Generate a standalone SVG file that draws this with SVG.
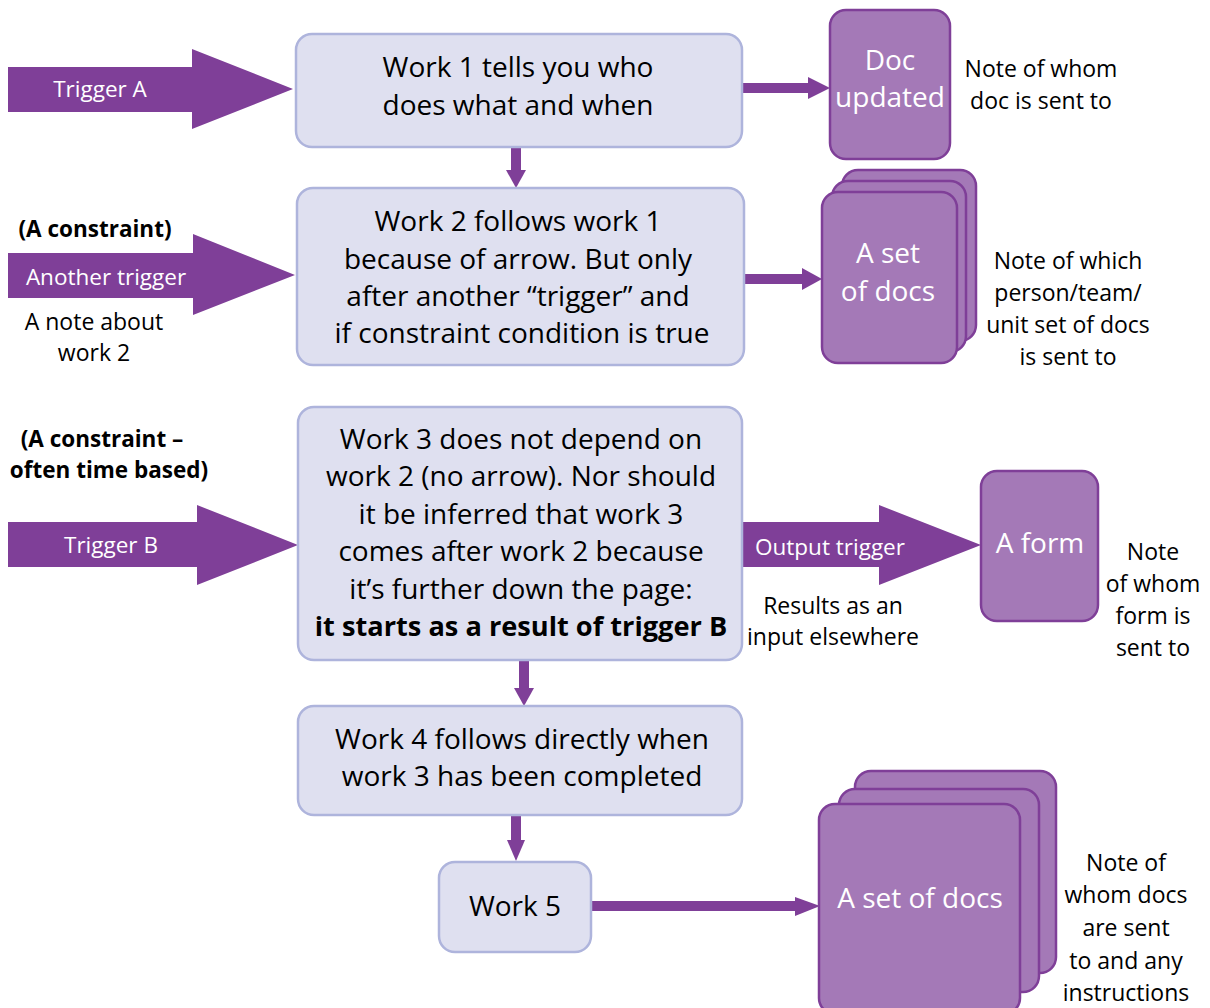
<svg xmlns="http://www.w3.org/2000/svg" width="1210" height="1008" viewBox="0 0 1210 1008">
<style>
.box{fill:#dfe0f0;stroke:#aeb4dc;stroke-width:2.5}
.doc{fill:#a479b7;stroke:#7f3f98;stroke-width:2.5}
.big{fill:#7f3f98}
.t{font-family:"Open Sans","Noto Sans",sans-serif;font-size:28px;fill:#000;text-anchor:middle}
.w{font-family:"Open Sans","Noto Sans",sans-serif;font-size:28px;fill:#fff;text-anchor:middle}
.s{font-family:"Open Sans","Noto Sans",sans-serif;font-size:23px;fill:#000;text-anchor:middle}
.sw{font-family:"Open Sans","Noto Sans",sans-serif;font-size:22.5px;fill:#fff;text-anchor:middle}
.b{font-weight:bold}
.sb{font-size:22.5px}
.tb{font-size:27.2px}
.con{stroke:#7f3f98;stroke-width:10;fill:none}
.head{fill:#7f3f98}
</style>
<rect width="1210" height="1008" fill="#fff"/>
<g id="connectors">
<line class="con" x1="742" y1="88" x2="810" y2="88"/>
<polygon class="head" points="808,77 830,88 808,99"/>
<line class="con" x1="516" y1="147" x2="516" y2="172"/>
<polygon class="head" points="506,170 516,188 526,170"/>
<line class="con" x1="744" y1="279" x2="804" y2="279"/>
<polygon class="head" points="802,268 822,279 802,290"/>
<line class="con" x1="524" y1="660" x2="524" y2="690"/>
<polygon class="head" points="514,688 524,706 534,688"/>
<line class="con" x1="516" y1="815" x2="516" y2="843"/>
<polygon class="head" points="507,840 516,861 525,840"/>
<line class="con" x1="591" y1="906" x2="798" y2="906"/>
<polygon class="head" points="795,897 820,906 795,916"/>
</g>
<g id="triggerA">
<polygon class="big" points="8,67 192,67 192,49 293,89 192,129 192,112 8,112"/>
<text class="sw" x="100" y="97">Trigger A</text>
</g>
<g id="anotherTrigger">
<polygon class="big" points="8,253 193,253 193,234 295,275 193,315 193,298 8,298"/>
<text class="sw" x="106" y="285">Another trigger</text>
</g>
<g id="triggerB">
<polygon class="big" points="8,522 197,522 197,505 298,545 197,585 197,567 8,567"/>
<text class="sw" x="111" y="553">Trigger B</text>
</g>
<g id="outputTrigger">
<polygon class="big" points="742,522 879,522 879,505 981,545 879,585 879,567 742,567"/>
<text class="sw" x="830" y="555">Output trigger</text>
</g>
<g id="work1">
<rect class="box" x="296" y="34" width="446" height="113" rx="16"/>
<text class="t" x="518" y="77">Work 1 tells you who</text>
<text class="t" x="518" y="115">does what and when</text>
</g>
<g id="work2">
<rect class="box" x="297" y="188" width="447" height="177" rx="16"/>
<text class="t" x="518" y="231">Work 2 follows work 1</text>
<text class="t" x="518" y="269">because of arrow. But only</text>
<text class="t" x="518" y="306">after another “trigger” and</text>
<text class="t" x="522" y="343">if constraint condition is true</text>
</g>
<g id="work3">
<rect class="box" x="298" y="407" width="444" height="253" rx="16"/>
<text class="t" x="521" y="449">Work 3 does not depend on</text>
<text class="t" x="521" y="486">work 2 (no arrow). Nor should</text>
<text class="t" x="521" y="524">it be inferred that work 3</text>
<text class="t" x="521" y="561">comes after work 2 because</text>
<text class="t" x="521" y="599">it’s further down the page:</text>
<text class="t b tb" x="521" y="636">it starts as a result of trigger B</text>
</g>
<g id="work4">
<rect class="box" x="298" y="706" width="444" height="109" rx="16"/>
<text class="t" x="522" y="749">Work 4 follows directly when</text>
<text class="t" x="522" y="786">work 3 has been completed</text>
</g>
<g id="work5">
<rect class="box" x="439" y="862" width="152" height="90" rx="16"/>
<text class="t" x="515" y="916">Work 5</text>
</g>
<g id="docUpdated">
<rect class="doc" x="830" y="10" width="120" height="149" rx="16"/>
<text class="w" x="890" y="70">Doc</text>
<text class="w" x="890" y="107">updated</text>
</g>
<g id="setOfDocs1">
<rect class="doc" x="842" y="170" width="134" height="171" rx="16"/>
<rect class="doc" x="832" y="181" width="134" height="171" rx="16"/>
<rect class="doc" x="822" y="192" width="135" height="171" rx="16"/>
<text class="w" x="888" y="263">A set</text>
<text class="w" x="888" y="301">of docs</text>
</g>
<g id="aForm">
<rect class="doc" x="981" y="471" width="117" height="150" rx="16"/>
<text class="w" x="1040" y="553">A form</text>
</g>
<g id="setOfDocs2">
<rect class="doc" x="855" y="771" width="201" height="202" rx="16"/>
<rect class="doc" x="839" y="789" width="200" height="203" rx="16"/>
<rect class="doc" x="819" y="804" width="201" height="210" rx="16"/>
<text class="w" x="920" y="908">A set of docs</text>
</g>
<g id="labels">
<text class="s b sb" x="95" y="237">(A constraint)</text>
<text class="s" x="94" y="330">A note about</text>
<text class="s" x="94" y="361">work 2</text>
<text class="s b sb" x="102" y="447">(A constraint –</text>
<text class="s b sb" x="109" y="478">often time based)</text>
<text class="s" x="1041" y="77">Note of whom</text>
<text class="s" x="1041" y="109">doc is sent to</text>
<text class="s" x="1068" y="269">Note of which</text>
<text class="s" x="1068" y="301">person/team/</text>
<text class="s" x="1068" y="333">unit set of docs</text>
<text class="s" x="1068" y="365">is sent to</text>
<text class="s" x="833" y="614">Results as an</text>
<text class="s" x="833" y="645">input elsewhere</text>
<text class="s" x="1153" y="560">Note</text>
<text class="s" x="1153" y="592">of whom</text>
<text class="s" x="1153" y="624">form is</text>
<text class="s" x="1153" y="656">sent to</text>
<text class="s" x="1126" y="871">Note of</text>
<text class="s" x="1126" y="903">whom docs</text>
<text class="s" x="1126" y="936">are sent</text>
<text class="s" x="1126" y="969">to and any</text>
<text class="s" x="1126" y="1001">instructions</text>
</g>
</svg>
